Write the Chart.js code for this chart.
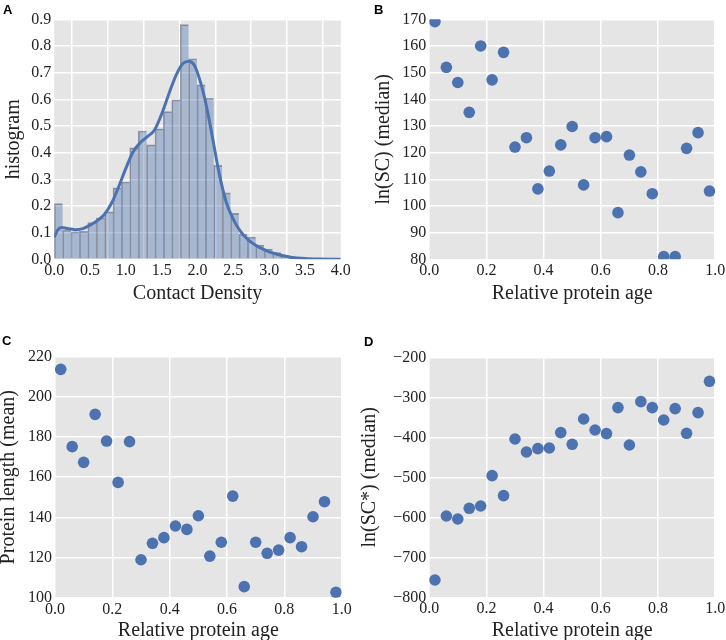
<!DOCTYPE html>
<html>
<head>
<meta charset="utf-8">
<script src="https://cdn.jsdelivr.net/npm/chart.js@4.4.1/dist/chart.umd.min.js"></script>
<style>
  html, body { margin: 0; padding: 0; background: #fff; overflow: hidden; }
  #page { position: relative; width: 726px; height: 640px; overflow: hidden; }
  canvas { position: absolute; }
  .tag { position: absolute; font: bold 13px "Liberation Sans", Arial, sans-serif; line-height: 13px; color: #000; }
</style>
</head>
<body>
<div id="page">
  <canvas id="chartA" width="403" height="360" style="left:-20px;top:-20px"></canvas>
  <canvas id="chartB" width="403" height="360" style="left:343px;top:-20px"></canvas>
  <canvas id="chartC" width="403" height="360" style="left:-20px;top:300px"></canvas>
  <canvas id="chartD" width="403" height="360" style="left:343px;top:300px"></canvas>
  <div class="tag" style="left:3px;top:3px">A</div>
  <div class="tag" style="left:374px;top:3px">B</div>
  <div class="tag" style="left:2px;top:334px">C</div>
  <div class="tag" style="left:364px;top:335px">D</div>
</div>
<script>
// panel A: histogram of contact density (bin centres + heights) and the kde curve
const densityBins = [0.059, 0.176, 0.293, 0.410, 0.527, 0.645, 0.762, 0.879, 0.996, 1.113,
  1.231, 1.348, 1.465, 1.582, 1.699, 1.817, 1.934, 2.051, 2.168, 2.285,
  2.403, 2.520, 2.637, 2.754, 2.871, 2.989, 3.106, 3.223, 3.340];
const densityHist = [0.209, 0.109, 0.103, 0.105, 0.138, 0.155, 0.178, 0.268, 0.290, 0.418,
  0.481, 0.429, 0.489, 0.554, 0.598, 0.880, 0.752, 0.654, 0.604, 0.352,
  0.249, 0.172, 0.094, 0.083, 0.053, 0.038, 0.025, 0.013, 0.005];
const kdeX = [0, 0.05, 0.1, 0.2, 0.3, 0.4, 0.5, 0.6, 0.7, 0.8, 0.9, 1.0, 1.1, 1.2, 1.3, 1.4,
  1.5, 1.6, 1.7, 1.8, 1.88, 1.95, 2.0, 2.1, 2.2, 2.3, 2.4, 2.5, 2.6, 2.7, 2.8, 2.9, 3.0,
  3.1, 3.2, 3.3, 3.5, 3.7, 4.0];
const kdeY = [0.083, 0.110, 0.119, 0.115, 0.111, 0.115, 0.128, 0.145, 0.168, 0.210, 0.272,
  0.341, 0.402, 0.437, 0.460, 0.485, 0.545, 0.620, 0.690, 0.735, 0.743, 0.730, 0.700,
  0.605, 0.470, 0.325, 0.215, 0.150, 0.105, 0.075, 0.055, 0.040, 0.028, 0.020, 0.013,
  0.008, 0.003, 0.001, 0.0];

// panels B-D: values per relative protein age bin
const ageBins = [0.02, 0.06, 0.10, 0.14, 0.18, 0.22, 0.26, 0.30, 0.34, 0.38, 0.42, 0.46, 0.50,
  0.54, 0.58, 0.62, 0.66, 0.70, 0.74, 0.78, 0.82, 0.86, 0.90, 0.94, 0.98];
const scMedian = [169.1, 152.0, 146.3, 135.1, 160.0, 147.3, 157.6, 122.1, 125.6, 106.4, 113.1,
  122.9, 129.8, 107.9, 125.6, 126.0, 97.5, 119.1, 112.8, 104.6, 81.0, 81.0, 121.6, 127.5, 105.6];
const lengthMean = [213.7, 175.2, 167.4, 191.3, 178.0, 157.4, 177.7, 118.9, 127.1, 129.9, 135.7,
  134.0, 140.8, 120.7, 127.6, 150.6, 105.5, 127.6, 122.1, 123.7, 129.9, 125.4, 140.3, 147.8, 102.7];
const scStarMedian = [-756.7, -596.7, -604.2, -577.5, -571.7, -495.8, -545.8, -404.2, -436.7,
  -428.3, -426.7, -388.3, -417.5, -354.2, -381.7, -390.8, -325.8, -419.2, -310.8, -325.8,
  -356.7, -328.3, -390.0, -338.3, -260.0];

const blue = "#4c72b0";
const serif = "'Liberation Serif', 'Times New Roman', serif";
const tickFont = { family: serif, size: 16 };
const titleFont = { family: serif, size: 20, lineHeight: 1 };

const plotBackground = {
  id: "plotBackground",
  beforeDraw(chart) {
    const a = chart.chartArea;
    chart.ctx.save();
    chart.ctx.fillStyle = "#e5e5e5";
    chart.ctx.fillRect(a.left, a.top, a.right - a.left, a.bottom - a.top);
    chart.ctx.restore();
  }
};

// every canvas is 403x360; plot box and title centres are given in page pixels
function frame(canvasLeft, canvasTop, box) {
  return {
    padTop: box.top - canvasTop,
    padRight: canvasLeft + 403 - box.right,
    yWidth: box.left - canvasLeft,
    xHeight: canvasTop + 360 - box.bottom,
    xTitlePad: canvasTop + 360 - box.xTitle - 10,
    yTitlePad: box.yTitle - canvasLeft - 10
  };
}

function axes(f, x, y) {
  return {
    x: {
      type: "linear", min: x.min, max: x.max, offset: false,
      afterFit: s => { s.height = f.xHeight; },
      grid: { color: "#ffffff", lineWidth: 1.5, drawTicks: false },
      border: { display: false },
      ticks: { stepSize: x.step, padding: 2, color: "#222", font: tickFont, maxRotation: 0, autoSkip: false,
        callback: v => v.toFixed(1) },
      title: { display: true, text: x.title, color: "#222", font: titleFont, padding: { top: 0, bottom: f.xTitlePad } }
    },
    y: {
      type: "linear", min: y.min, max: y.max,
      afterFit: s => { s.width = f.yWidth; },
      grid: { color: "#ffffff", lineWidth: 1.5, drawTicks: false },
      border: { display: false },
      ticks: { stepSize: y.step, padding: 3, color: "#222", font: tickFont, autoSkip: false, callback: y.fmt },
      title: { display: true, text: y.title, color: "#222", font: titleFont, padding: { top: y.titlePad, bottom: 0 } }
    }
  };
}

function baseOptions(f, scales) {
  return {
    responsive: false,
    animation: false,
    layout: { padding: { top: f.padTop, right: f.padRight, left: 0, bottom: 0 } },
    plugins: { legend: { display: false }, tooltip: { enabled: false } },
    scales: scales
  };
}

const plain = v => String(v);
const minus = v => (v < 0 ? "\u2212" + Math.abs(v) : String(v));

// A
const fA = frame(-20, -20, { left: 54.2, top: 19.3, right: 340.8, bottom: 259.3, xTitle: 293.5, yTitle: 13.5 });
new Chart(document.getElementById("chartA"), {
  type: "bar",
  data: {
    datasets: [{
      type: "line",
      data: kdeX.map((x, i) => ({ x: x, y: kdeY[i] })),
      borderColor: blue,
      borderWidth: 3,
      pointRadius: 0,
      cubicInterpolationMode: "monotone",
      fill: false
    }, {
      type: "bar",
      data: densityBins.map((x, i) => ({ x: x, y: densityHist[i] })),
      backgroundColor: "rgba(76,114,176,0.4)",
      borderColor: "rgba(70,70,90,0.5)",
      borderWidth: { top: 1, left: 1, right: 0, bottom: 0 },
      borderSkipped: false,
      barPercentage: 1,
      categoryPercentage: 1,
      grouped: false
    }]
  },
  options: baseOptions(fA, axes(fA,
    { min: 0, max: 4, step: 0.5, title: "Contact Density" },
    { min: 0, max: 0.9, step: 0.1, title: "histogram", titlePad: fA.yTitlePad, fmt: v => v.toFixed(1) })),
  plugins: [plotBackground]
});

function scatterPanel(id, canvasLeft, canvasTop, box, values, y) {
  const f = frame(canvasLeft, canvasTop, box);
  y.titlePad = f.yTitlePad;
  new Chart(document.getElementById(id), {
    type: "scatter",
    data: {
      datasets: [{
        data: ageBins.map((x, i) => ({ x: x, y: values[i] })),
        backgroundColor: blue,
        borderWidth: 0,
        pointRadius: 5.8,
        clip: 0
      }]
    },
    options: baseOptions(f, axes(f, { min: 0, max: 1, step: 0.2, title: "Relative protein age" }, y)),
    plugins: [plotBackground]
  });
}

scatterPanel("chartB", 343, -20,
  { left: 429.2, top: 19.3, right: 715.2, bottom: 259.3, xTitle: 294, yTitle: 384 },
  scMedian, { min: 80, max: 170, step: 10, title: "ln(SC) (median)", fmt: plain });

scatterPanel("chartC", -20, 300,
  { left: 55, top: 356.7, right: 341.7, bottom: 597.7, xTitle: 631, yTitle: 9 },
  lengthMean, { min: 100, max: 220, step: 20, title: "Protein length (mean)", fmt: plain });

scatterPanel("chartD", 343, 300,
  { left: 429.2, top: 357.3, right: 715.2, bottom: 597.3, xTitle: 631, yTitle: 370 },
  scStarMedian, { min: -800, max: -200, step: 100, title: "ln(SC*) (median)", fmt: minus });
</script>
</body>
</html>
